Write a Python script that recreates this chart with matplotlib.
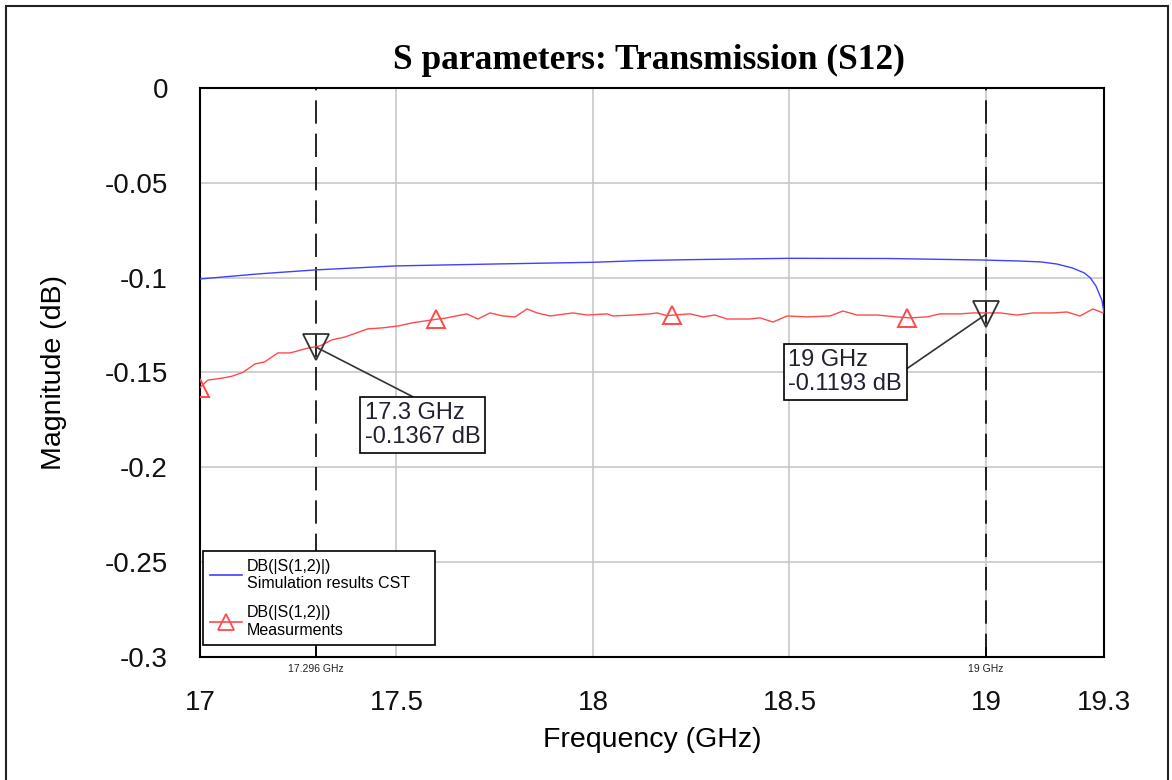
import numpy as np
import matplotlib
matplotlib.use("Agg")
import matplotlib.pyplot as plt
from matplotlib.patches import Rectangle
from matplotlib.lines import Line2D
import matplotlib.transforms as mtransforms

plt.rcParams['font.family'] = ['Liberation Sans', 'DejaVu Sans']

# Datos (frecuencia en GHz, magnitud en dB)
sim_freq = [17.0, 17.15, 17.295, 17.5, 17.75, 18.0, 18.12, 18.25, 18.5, 18.75,
            18.99, 19.08, 19.14, 19.18, 19.22, 19.25, 19.265, 19.28, 19.295, 19.30]
sim_db = [-0.1007, -0.0980, -0.0959, -0.0938, -0.0928, -0.0919, -0.0910, -0.0905, -0.0898, -0.0899,
          -0.0907, -0.0912, -0.0917, -0.0928, -0.0949, -0.0975, -0.1000, -0.1045, -0.1120, -0.1181]

meas_freq = [17.000, 17.020, 17.056, 17.081, 17.109, 17.140, 17.165, 17.198, 17.229, 17.249,
             17.275, 17.305, 17.336, 17.369, 17.427, 17.463, 17.504, 17.539, 17.573, 17.590,
             17.628, 17.679, 17.707, 17.738, 17.771, 17.802, 17.832, 17.858, 17.891, 17.949,
             17.985, 18.036, 18.051, 18.102, 18.145, 18.163, 18.188, 18.247, 18.280, 18.310,
             18.341, 18.399, 18.425, 18.458, 18.494, 18.545, 18.603, 18.636, 18.672, 18.723,
             18.774, 18.807, 18.850, 18.883, 18.934, 18.967, 19.003, 19.036, 19.079, 19.120,
             19.171, 19.206, 19.239, 19.272, 19.298]
meas_db = [-0.1580, -0.1540, -0.1530, -0.1520, -0.1500, -0.1455, -0.1444, -0.1397, -0.1397, -0.1386,
           -0.1371, -0.1360, -0.1328, -0.1313, -0.1270, -0.1265, -0.1255, -0.1239, -0.1228, -0.1223,
           -0.1212, -0.1191, -0.1218, -0.1186, -0.1202, -0.1207, -0.1165, -0.1186, -0.1202, -0.1186,
           -0.1197, -0.1191, -0.1202, -0.1197, -0.1191, -0.1186, -0.1200, -0.1191, -0.1207, -0.1197,
           -0.1218, -0.1218, -0.1212, -0.1234, -0.1202, -0.1207, -0.1202, -0.1176, -0.1197, -0.1197,
           -0.1207, -0.1212, -0.1207, -0.1191, -0.1191, -0.1186, -0.1186, -0.1186, -0.1197, -0.1186,
           -0.1186, -0.1181, -0.1202, -0.1165, -0.1186]

# Triangulos de la curva medida
meas_marker_freq = [17.0, 17.6, 18.2, 18.8]

# Marcadores de lectura
mk_freq = [17.296, 19.0]
mk_db = [-0.1367, -0.1193]
mk_labels = ["17.3 GHz\n-0.1367 dB", "19 GHz\n-0.1193 dB"]
mk_axis_labels = ["17.296 GHz", "19 GHz"]

xticks = [17, 17.5, 18, 18.5, 19, 19.3]
xtick_labels = ["17", "17.5", "18", "18.5", "19", "19.3"]
yticks = [0, -0.05, -0.1, -0.15, -0.2, -0.25, -0.3]
ytick_labels = ["0", "-0.05", "-0.1", "-0.15", "-0.2", "-0.25", "-0.3"]

fig = plt.figure(figsize=(11.72, 7.8), dpi=100)
ax = fig.add_axes([0.1706, 0.1577, 0.7713, 0.7295])

blue = "#4040ff"
red = "#ff4a4a"

ax.plot(sim_freq, sim_db, color=blue, lw=1.0, zorder=3)
ax.plot(meas_freq, meas_db, color=red, lw=1.0, zorder=3)
ax.plot(meas_marker_freq, np.interp(meas_marker_freq, meas_freq, meas_db), ls="none",
        marker="^", ms=13, mfc="none", mec=red, mew=1.4, zorder=4)

# Lineas verticales de los marcadores
for f in mk_freq:
    ax.axvline(f, color="black", lw=1.2, dashes=(14, 6), zorder=2)
ax.plot(mk_freq, mk_db, ls="none", marker="v", ms=19, mfc="none", mec="#333333",
        mew=1.3, zorder=5)

trans = mtransforms.blended_transform_factory(ax.transData, ax.transAxes)
for f, lab in zip(mk_freq, mk_axis_labels):
    ax.plot([f, f], [0, 0.015], color="black", lw=1.2, transform=trans, clip_on=False, zorder=5)
    ax.text(f, -0.012, lab, transform=trans, ha="center", va="top", fontsize=7.5, color="#202020")

# Cuadros de texto de los marcadores
ax.annotate(mk_labels[0], xy=(mk_freq[0], mk_db[0]), xytext=(17.42, -0.1655),
            fontsize=17, color="#202030", ha="left", va="top", linespacing=1.15,
            bbox=dict(boxstyle="square,pad=0.2", fc="white", ec="black", lw=1.2),
            arrowprops=dict(arrowstyle="-", color="#333333", lw=1.2, relpos=(0.5, 1.0),
                            shrinkA=0, shrinkB=0), zorder=6)
ax.annotate(mk_labels[1], xy=(mk_freq[1], mk_db[1]), xytext=(18.497, -0.1375),
            fontsize=17, color="#202030", ha="left", va="top", linespacing=1.15,
            bbox=dict(boxstyle="square,pad=0.2", fc="white", ec="black", lw=1.2),
            arrowprops=dict(arrowstyle="-", color="#333333", lw=1.2, relpos=(1.0, 0.5),
                            shrinkA=0, shrinkB=0), zorder=6)

ax.set_xlim(17, 19.3)
ax.set_ylim(-0.3, 0)
ax.set_xticks(xticks)
ax.set_xticklabels(xtick_labels)
ax.set_yticks(yticks)
ax.set_yticklabels(ytick_labels)
ax.tick_params(length=0, labelsize=20, colors="#111111")
ax.tick_params(axis="x", pad=24)
ax.tick_params(axis="y", pad=23)
ax.grid(True, color="#c8c8c8", lw=1.2)
ax.set_axisbelow(True)
for s in ax.spines.values():
    s.set_color("black")
    s.set_linewidth(1.5)

ax.set_xlabel("Frequency (GHz)", fontsize=20.5, labelpad=8)
ax.set_ylabel("Magnitude (dB)", fontsize=20.5, labelpad=27)

fig.text(0.5537, 0.923, "S parameters: Transmission (S12)", ha="center", va="center",
         fontsize=25.5, fontweight="bold", family="Liberation Serif")

# Leyenda
handles = [Line2D([], [], color=blue, lw=1.2),
           Line2D([], [], color=red, lw=1.2, marker="^", ms=11, mfc="none", mec=red, mew=1.3)]
leg = ax.legend(handles, ["DB(|S(1,2)|)\nSimulation results CST    ", "DB(|S(1,2)|)\nMeasurments"],
                loc="lower left", bbox_to_anchor=(0.003, 0.021), fontsize=11.5,
                fancybox=False, edgecolor="black", framealpha=1, handlelength=2.0,
                handletextpad=0.3, borderpad=0.45, labelspacing=0.9, borderaxespad=0)
leg.get_frame().set_linewidth(1.2)

# Marco exterior
fig.patches.append(Rectangle((0.005, -0.01), 0.992, 1.002, transform=fig.transFigure,
                             fill=False, ec="#222222", lw=1.5))

fig.savefig("out.png", dpi=100)
